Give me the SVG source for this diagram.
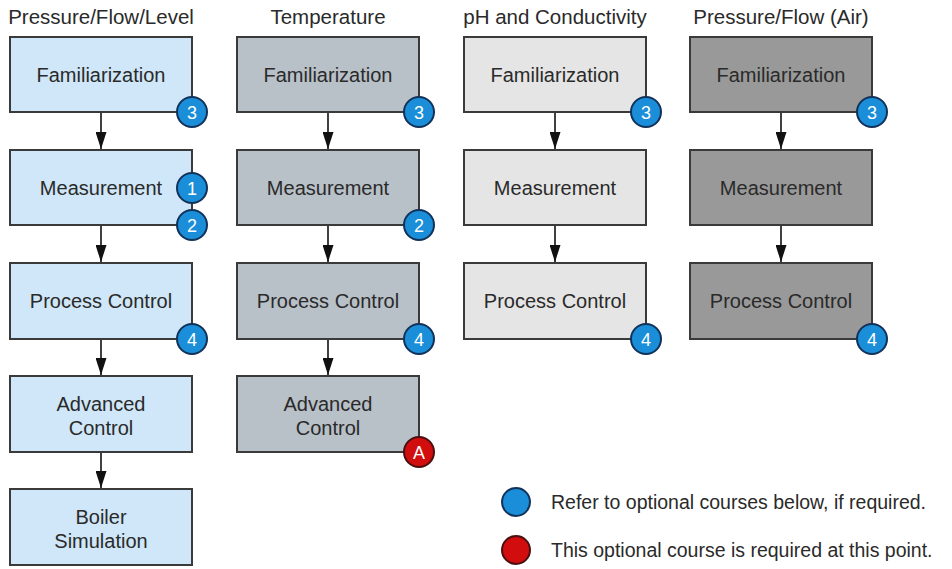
<svg xmlns="http://www.w3.org/2000/svg" width="952" height="569" viewBox="0 0 952 569">
<defs>
<style>
text{font-family:"Liberation Sans",Arial,sans-serif;fill:#2a2a2a;}
.hdr{font-size:20.5px;text-anchor:middle;}
.lbl{font-size:20px;text-anchor:middle;}
.leg{font-size:19.5px;}
.box{stroke:#3a3a3a;stroke-width:2;}
.c1{fill:#cfe7f8;}
.c2{fill:#b8c0c8;}
.c3{fill:#e5e5e5;}
.c4{fill:#999999;}
.bb{fill:#1a8ed8;stroke:#12325a;stroke-width:2;}
.br{fill:#d10d0d;stroke:#4a1010;stroke-width:2;}
.bt{font-size:18px;fill:#ffffff;text-anchor:middle;}
.conn{stroke:#111;stroke-width:1.6;fill:none;marker-end:url(#ah);}
</style>
<marker id="ah" viewBox="0 0 17 11" refX="17" refY="5.5" markerWidth="17" markerHeight="11" markerUnits="userSpaceOnUse" orient="auto">
<path d="M0,0 L0,11 L17,5.5 Z" fill="#111"/>
</marker>
</defs>
<rect width="952" height="569" fill="#ffffff"/>

<g id="headers">
<text class="hdr" x="101" y="24">Pressure/Flow/Level</text>
<text class="hdr" x="328" y="24">Temperature</text>
<text class="hdr" x="555" y="24">pH and Conductivity</text>
<text class="hdr" x="781" y="24">Pressure/Flow (Air)</text>
</g>

<g id="connectors">
<path class="conn" d="M101,113 V149"/>
<path class="conn" d="M101,226 V262"/>
<path class="conn" d="M101,340 V375"/>
<path class="conn" d="M101,453 V488"/>
<path class="conn" d="M328,113 V149"/>
<path class="conn" d="M328,226 V262"/>
<path class="conn" d="M328,340 V375"/>
<path class="conn" d="M555,113 V149"/>
<path class="conn" d="M555,226 V262"/>
<path class="conn" d="M781,113 V149"/>
<path class="conn" d="M781,226 V262"/>
</g>

<g id="c1-fam"><rect class="box c1" x="10" y="37" width="182" height="75"/><text class="lbl" x="101" y="82">Familiarization</text></g>
<g id="c1-meas"><rect class="box c1" x="10" y="150" width="182" height="75"/><text class="lbl" x="101" y="195">Measurement</text></g>
<g id="c1-pc"><rect class="box c1" x="10" y="263" width="182" height="76"/><text class="lbl" x="101" y="308">Process Control</text></g>
<g id="c1-adv"><rect class="box c1" x="10" y="376" width="182" height="76"/><text class="lbl" x="101" y="411">Advanced</text><text class="lbl" x="101" y="435">Control</text></g>
<g id="c1-boil"><rect class="box c1" x="10" y="489" width="182" height="76"/><text class="lbl" x="101" y="524">Boiler</text><text class="lbl" x="101" y="548">Simulation</text></g>

<g id="c2-fam"><rect class="box c2" x="237" y="37" width="182" height="75"/><text class="lbl" x="328" y="82">Familiarization</text></g>
<g id="c2-meas"><rect class="box c2" x="237" y="150" width="182" height="75"/><text class="lbl" x="328" y="195">Measurement</text></g>
<g id="c2-pc"><rect class="box c2" x="237" y="263" width="182" height="76"/><text class="lbl" x="328" y="308">Process Control</text></g>
<g id="c2-adv"><rect class="box c2" x="237" y="376" width="182" height="76"/><text class="lbl" x="328" y="411">Advanced</text><text class="lbl" x="328" y="435">Control</text></g>

<g id="c3-fam"><rect class="box c3" x="464" y="37" width="182" height="75"/><text class="lbl" x="555" y="82">Familiarization</text></g>
<g id="c3-meas"><rect class="box c3" x="464" y="150" width="182" height="75"/><text class="lbl" x="555" y="195">Measurement</text></g>
<g id="c3-pc"><rect class="box c3" x="464" y="263" width="182" height="76"/><text class="lbl" x="555" y="308">Process Control</text></g>

<g id="c4-fam"><rect class="box c4" x="690" y="37" width="182" height="75"/><text class="lbl" x="781" y="82">Familiarization</text></g>
<g id="c4-meas"><rect class="box c4" x="690" y="150" width="182" height="75"/><text class="lbl" x="781" y="195">Measurement</text></g>
<g id="c4-pc"><rect class="box c4" x="690" y="263" width="182" height="76"/><text class="lbl" x="781" y="308">Process Control</text></g>

<g id="badges">
<circle class="bb" cx="192" cy="112" r="15"/><text class="bt" x="192" y="118.5">3</text>
<circle class="bb" cx="192" cy="188" r="15"/><text class="bt" x="192" y="194.5">1</text>
<circle class="bb" cx="192" cy="225" r="15"/><text class="bt" x="192" y="231.5">2</text>
<circle class="bb" cx="192" cy="339" r="15"/><text class="bt" x="192" y="345.5">4</text>
<circle class="bb" cx="419" cy="112" r="15"/><text class="bt" x="419" y="118.5">3</text>
<circle class="bb" cx="419" cy="225" r="15"/><text class="bt" x="419" y="231.5">2</text>
<circle class="bb" cx="419" cy="339" r="15"/><text class="bt" x="419" y="345.5">4</text>
<circle class="br" cx="419" cy="452" r="15"/><text class="bt" x="419" y="458.5">A</text>
<circle class="bb" cx="646" cy="112" r="15"/><text class="bt" x="646" y="118.5">3</text>
<circle class="bb" cx="646" cy="339" r="15"/><text class="bt" x="646" y="345.5">4</text>
<circle class="bb" cx="872" cy="112" r="15"/><text class="bt" x="872" y="118.5">3</text>
<circle class="bb" cx="872" cy="339" r="15"/><text class="bt" x="872" y="345.5">4</text>
</g>

<g id="legend">
<circle class="bb" cx="516" cy="502" r="14"/>
<text class="leg" x="551" y="509">Refer to optional courses below, if required.</text>
<circle class="br" cx="516" cy="550" r="14"/>
<text class="leg" x="551" y="557">This optional course is required at this point.</text>
</g>
</svg>
